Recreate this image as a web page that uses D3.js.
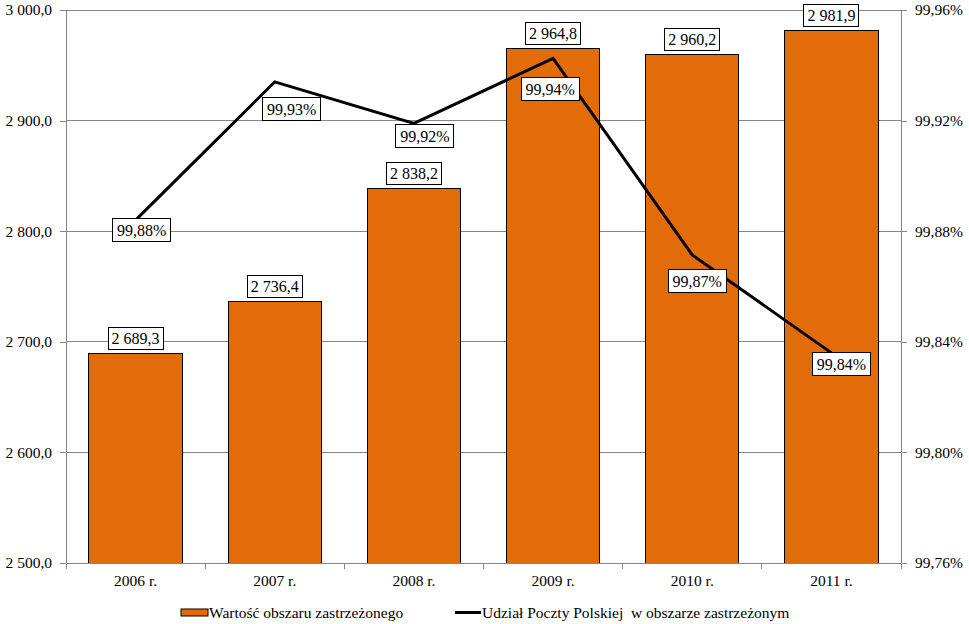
<!DOCTYPE html>
<html><head><meta charset="utf-8">
<script src="https://cdn.jsdelivr.net/npm/d3@7/dist/d3.min.js"></script>
<style>
html,body{margin:0;padding:0;background:#fff;}
svg text{font-family:"Liberation Serif","Times New Roman",Times,"DejaVu Serif",serif;fill:#000;}
</style></head>
<body>
<svg id="chart" width="969" height="624"></svg>
<script>
const categories = ["2006 r.","2007 r.","2008 r.","2009 r.","2010 r.","2011 r."];
const barValues = [2689.3, 2736.4, 2838.2, 2964.8, 2960.2, 2981.9];
const lineValues = [99.884, 99.934, 99.919, 99.9425, 99.8714, 99.836];
const leftTicks = [2500, 2600, 2700, 2800, 2900, 3000];
const rightTicks = [99.76, 99.80, 99.84, 99.88, 99.92, 99.96];
const barSeriesName = "Wartość obszaru zastrzeżonego";
const lineSeriesName = "Udział Poczty Polskiej  w obszarze zastrzeżonym";

// label placement offsets (layout, not data)
const lineLabelOffset = [[6,10],[17,27],[11,13],[-3,31],[5,26],[10,11]];

const loc = d3.formatLocale({decimal:",", thousands:"\u00a0", grouping:[3], currency:["",""]});
const fmtBar = loc.format(",.1f");
const fmtPct = v => loc.format(".2f")(v) + "%";

const svg = d3.select("#chart");
const L = 66, R = 901, T = 10, B = 563;
const grid = "#868686";

const x = d3.scaleBand().domain(categories).range([L, R]).paddingInner(0.33).paddingOuter(0.165);
const yL = d3.scaleLinear().domain([2500, 3000]).range([B, T]);
const yR = d3.scaleLinear().domain([99.76, 99.96]).range([B, T]);

// gridlines
svg.append("g").selectAll("line").data(leftTicks).join("line")
  .attr("x1", L).attr("x2", R).attr("y1", d => yL(d)).attr("y2", d => yL(d))
  .attr("stroke", grid).attr("stroke-width", 1).attr("shape-rendering","crispEdges");

// left axis
const gL = svg.append("g").attr("transform", `translate(${L},0)`)
  .call(d3.axisLeft(yL).tickValues(leftTicks).tickSize(6).tickPadding(8).tickFormat(fmtBar));
gL.attr("font-family", null).attr("font-size", 15.5);
gL.selectAll("path,line").attr("stroke", grid).attr("shape-rendering","crispEdges");
gL.selectAll("text").attr("fill","#000");

// right axis
const gR = svg.append("g").attr("transform", `translate(${R},0)`)
  .call(d3.axisRight(yR).tickValues(rightTicks).tickSize(6).tickPadding(8).tickFormat(fmtPct));
gR.attr("font-family", null).attr("font-size", 15.5);
gR.selectAll("path,line").attr("stroke", grid).attr("shape-rendering","crispEdges");
gR.selectAll("text").attr("fill","#000");

// bars
svg.append("g").selectAll("rect").data(barValues).join("rect")
  .attr("x", (d,i) => x(categories[i]))
  .attr("width", x.bandwidth())
  .attr("y", d => yL(d))
  .attr("height", d => B - yL(d))
  .attr("fill", "#E36C0A").attr("stroke", "#000").attr("stroke-width", 1)
  .attr("shape-rendering","crispEdges");

// bottom axis
const step = x.step();
const boundaries = d3.range(categories.length + 1).map(i => L + i * step);
svg.append("line").attr("x1", L).attr("x2", R).attr("y1", B).attr("y2", B)
  .attr("stroke", grid).attr("shape-rendering","crispEdges");
svg.append("g").selectAll("line").data(boundaries).join("line")
  .attr("x1", d => d).attr("x2", d => d).attr("y1", B).attr("y2", B + 6)
  .attr("stroke", grid).attr("shape-rendering","crispEdges");
svg.append("g").selectAll("text").data(categories).join("text")
  .attr("x", d => x(d) + x.bandwidth()/2).attr("y", B + 23)
  .attr("text-anchor","middle").style("font-size","15.5px").text(d => d);

// line
const cx = i => x(categories[i]) + x.bandwidth()/2;
const line = d3.line().x((d,i) => cx(i)).y(d => yR(d));
svg.append("path").datum(lineValues).attr("d", line)
  .attr("fill","none").attr("stroke","#000").attr("stroke-width",3).attr("stroke-linejoin","miter");

// bar labels
const barLab = svg.append("g").selectAll("g").data(barValues).join("g")
  .attr("transform", (d,i) => `translate(${cx(i)},${yL(d) - 4})`);
barLab.append("rect").attr("x", -27.5).attr("y", -22).attr("width", 55).attr("height", 22)
  .attr("fill","#fff").attr("stroke","#000").attr("stroke-width",1).attr("shape-rendering","crispEdges");
barLab.append("text").attr("x", 0).attr("y", -5.5).attr("text-anchor","middle")
  .style("font-size","16px").text(d => fmtBar(d));

// line labels
const lineLab = svg.append("g").selectAll("g").data(lineValues).join("g")
  .attr("transform", (d,i) => `translate(${cx(i) + lineLabelOffset[i][0]},${yR(d) + lineLabelOffset[i][1]})`);
lineLab.append("rect").attr("x", -29).attr("y", -11.5).attr("width", 58).attr("height", 23)
  .attr("fill","#fff").attr("stroke","#000").attr("stroke-width",1).attr("shape-rendering","crispEdges");
lineLab.append("text").attr("x", 0).attr("y", 6).attr("text-anchor","middle")
  .style("font-size","16px").text(d => fmtPct(d));

// legend
const lg = svg.append("g");
lg.append("rect").attr("x", 181).attr("y", 609).attr("width", 27).attr("height", 7)
  .attr("fill","#E36C0A").attr("stroke","#000").attr("stroke-width",1);
lg.append("text").attr("x", 209).attr("y", 618)
  .style("font-size","15.5px").text(barSeriesName);
lg.append("line").attr("x1", 455).attr("x2", 481).attr("y1", 612.5).attr("y2", 612.5)
  .attr("stroke","#000").attr("stroke-width",3);
lg.append("text").attr("x", 482).attr("y", 618)
  .style("font-size","15.5px")
  .style("white-space","pre").attr("xml:space","preserve").text(lineSeriesName);
</script>
</body></html>
